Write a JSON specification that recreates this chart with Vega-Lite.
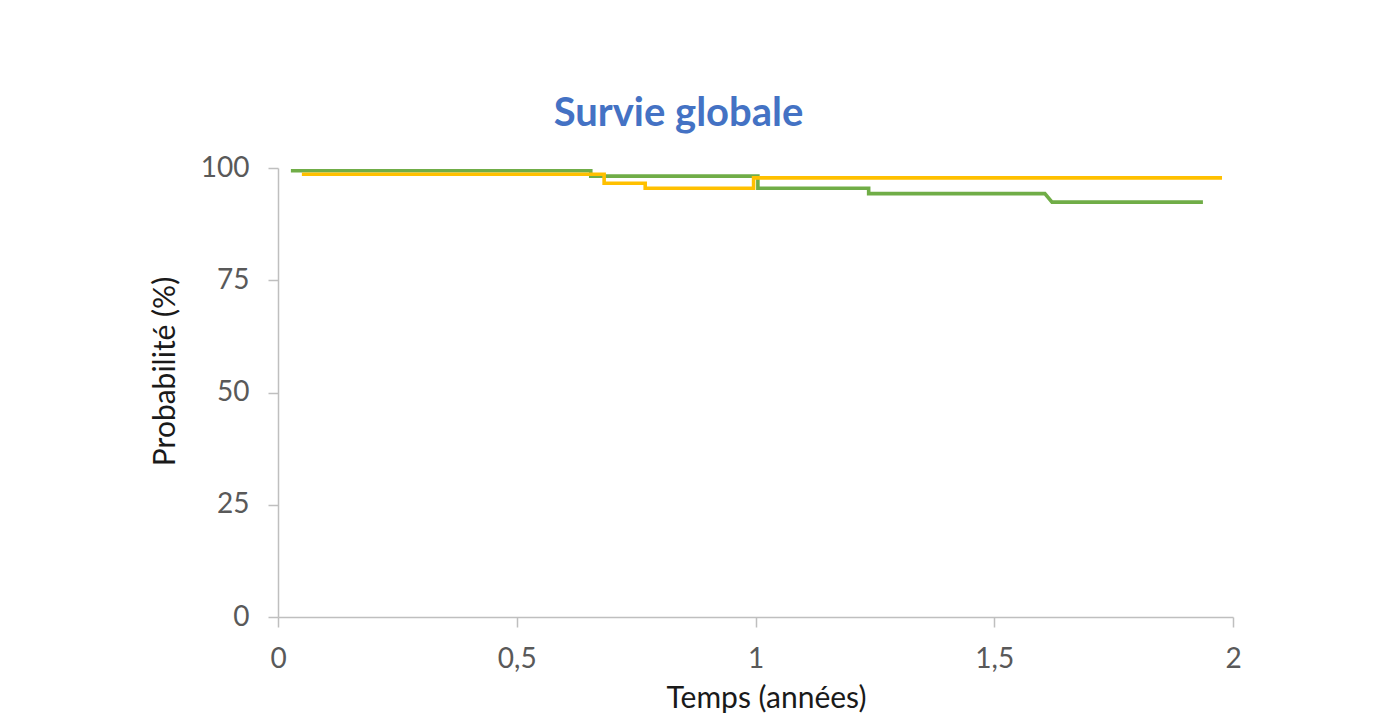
{
  "$schema": "https://vega.github.io/schema/vega-lite/v6.json",
  "autosize": "none",
  "width": 955,
  "height": 449,
  "padding": {"left": 278, "top": 168, "right": 154, "bottom": 104},
  "background": "#ffffff",
  "config": {
    "view": {"stroke": null},
    "font": "Lato"
  },
  "title": {
    "text": "Survie globale",
    "font": "Lato",
    "fontSize": 40,
    "fontWeight": "bold",
    "color": "#4472C4",
    "anchor": "middle",
    "frame": "group",
    "baseline": "alphabetic",
    "offset": -12,
    "dx": -77
  },
  "data": {
    "values": [
      {"groupe": "A", "i": 1, "temps": 0.027, "survie": 99.4},
      {"groupe": "A", "i": 2, "temps": 0.655, "survie": 99.4},
      {"groupe": "A", "i": 3, "temps": 0.655, "survie": 98.2},
      {"groupe": "A", "i": 4, "temps": 1.005, "survie": 98.2},
      {"groupe": "A", "i": 5, "temps": 1.005, "survie": 95.5},
      {"groupe": "A", "i": 6, "temps": 1.237, "survie": 95.5},
      {"groupe": "A", "i": 7, "temps": 1.237, "survie": 94.3},
      {"groupe": "A", "i": 8, "temps": 1.606, "survie": 94.3},
      {"groupe": "A", "i": 9, "temps": 1.621, "survie": 92.4},
      {"groupe": "A", "i": 10, "temps": 1.937, "survie": 92.4},
      {"groupe": "B", "i": 1, "temps": 0.05, "survie": 98.6},
      {"groupe": "B", "i": 2, "temps": 0.683, "survie": 98.6},
      {"groupe": "B", "i": 3, "temps": 0.683, "survie": 96.6},
      {"groupe": "B", "i": 4, "temps": 0.769, "survie": 96.6},
      {"groupe": "B", "i": 5, "temps": 0.769, "survie": 95.5},
      {"groupe": "B", "i": 6, "temps": 0.996, "survie": 95.5},
      {"groupe": "B", "i": 7, "temps": 0.996, "survie": 97.8},
      {"groupe": "B", "i": 8, "temps": 1.977, "survie": 97.8}
    ]
  },
  "mark": {"type": "line", "strokeWidth": 3.6, "strokeCap": "butt", "strokeJoin": "miter", "clip": false},
  "encoding": {
    "x": {
      "field": "temps",
      "type": "quantitative",
      "scale": {"domain": [0, 2], "nice": false, "zero": false},
      "axis": {
        "title": "Temps (années)",
        "values": [0, 0.5, 1, 1.5, 2],
        "format": ".1~f",
        "labelExpr": "replace(datum.label, '.', ',')",
        "grid": false,
        "domainColor": "#bfbfbf",
        "domainWidth": 1.5,
        "tickColor": "#bfbfbf",
        "tickWidth": 1.5,
        "tickSize": 10,
        "labelFlush": false,
        "labelFont": "Lato",
        "labelFontSize": 28,
        "labelColor": "#595959",
        "labelPadding": 18,
        "titleFont": "Lato",
        "titleFontSize": 30,
        "titleFontWeight": "normal",
        "titleColor": "#1a1a1a",
        "titleAnchor": "middle",
        "titleAlign": "center",
        "titleBaseline": "alphabetic",
        "titleX": 488,
        "titleY": 90
      }
    },
    "y": {
      "field": "survie",
      "type": "quantitative",
      "scale": {"domain": [0, 100], "nice": false},
      "axis": {
        "title": "Probabilité (%)",
        "values": [0, 25, 50, 75, 100],
        "grid": false,
        "domainColor": "#bfbfbf",
        "domainWidth": 1.5,
        "tickColor": "#bfbfbf",
        "tickWidth": 1.5,
        "tickSize": 10,
        "labelFlush": false,
        "labelFont": "Lato",
        "labelFontSize": 28,
        "labelColor": "#595959",
        "labelPadding": 19,
        "titleFont": "Lato",
        "titleFontSize": 30,
        "titleFontWeight": "normal",
        "titleColor": "#1a1a1a",
        "titleAngle": 270,
        "titleAlign": "center",
        "titleBaseline": "alphabetic",
        "titleX": -104,
        "titleY": 203
      }
    },
    "color": {
      "field": "groupe",
      "type": "nominal",
      "scale": {"domain": ["A", "B"], "range": ["#70AD47", "#FFC000"]},
      "legend": null
    },
    "order": {"field": "i", "type": "quantitative"}
  }
}
